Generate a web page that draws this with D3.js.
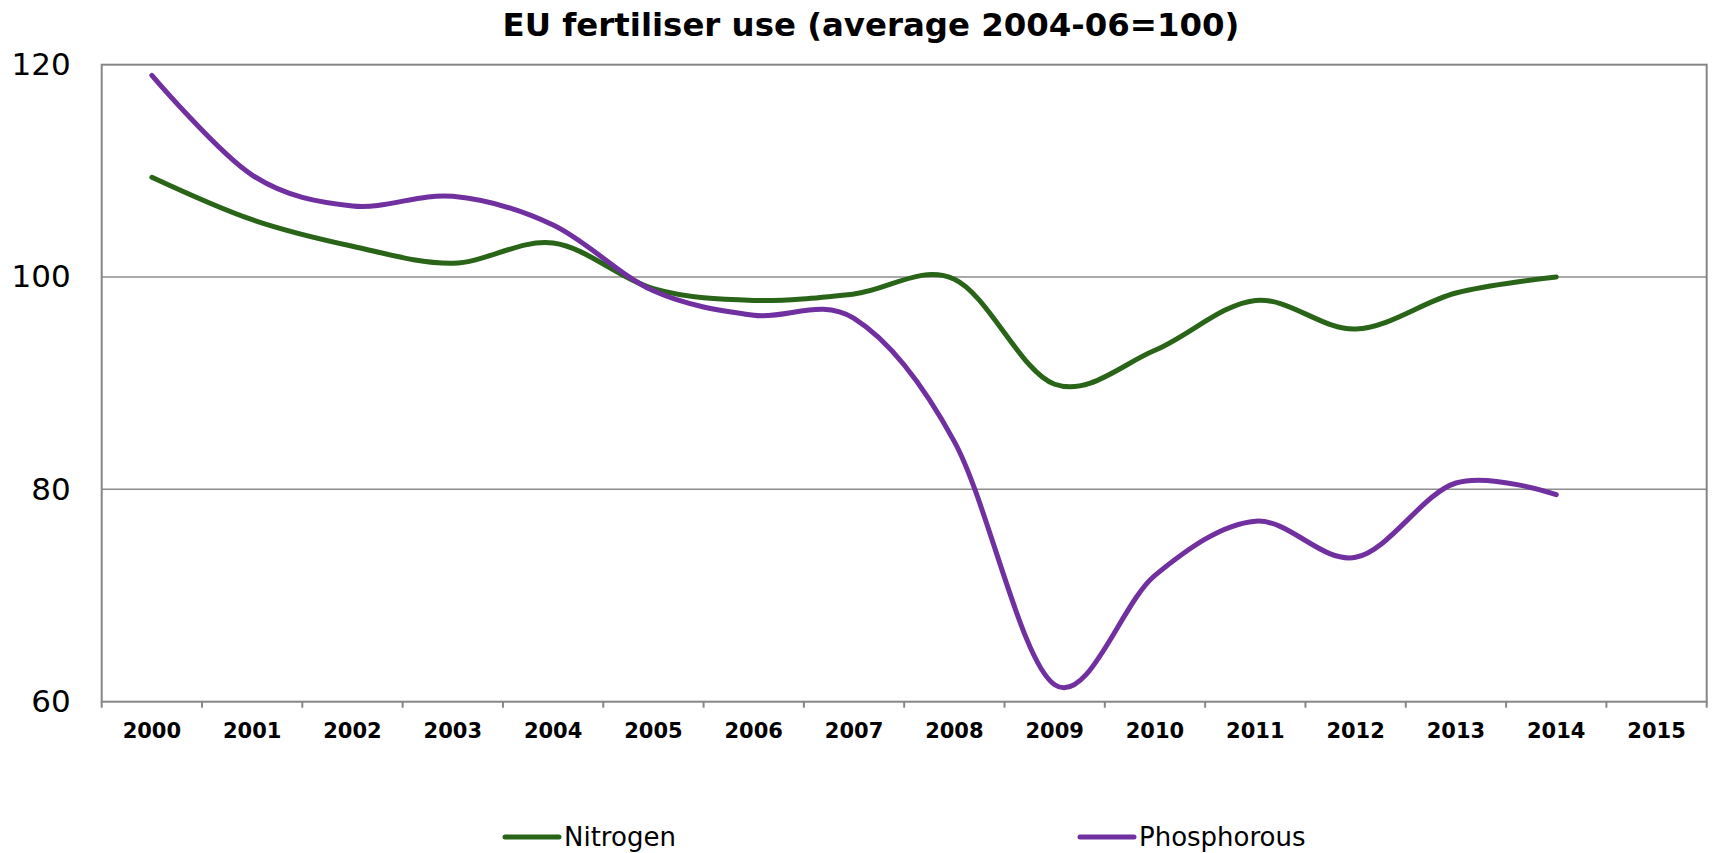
<!DOCTYPE html>
<html lang="en">
  <head>
    <meta charset="UTF-8" />
    <title>EU fertiliser use</title>
    <script src="https://d3js.org/d3.v7.min.js"></script>
    <style>
      body {
        margin: 0;
        padding: 0;
        background-color: #fff;
      }
      svg text {
        font-family: "DejaVu Sans", Verdana, sans-serif;
      }
    </style>
  </head>
  <body>
    <div id="chart"></div>

    <script>
      // data (index, average 2004-06 = 100)
      const years = ["2000", "2001", "2002", "2003", "2004", "2005", "2006", "2007", "2008", "2009", "2010", "2011", "2012", "2013", "2014", "2015"];
      const nitrogen = [109.4, 105.4, 102.9, 101.3, 103.2, 98.9, 97.8, 98.4, 99.8, 89.9, 93.1, 97.8, 95.1, 98.5, 100.0];
      const phosphorous = [119.0, 109.6, 106.7, 107.6, 104.9, 98.7, 96.4, 96.1, 84.5, 61.6, 71.9, 77.0, 73.6, 80.6, 79.5];
      const yTicks = [60, 80, 100, 120];
      const seriesNames = ["Nitrogen", "Phosphorous"];
      const seriesColors = ["#296419", "#7030a0"];

      const width = 1712;
      const height = 853;
      const margin = { top: 64.7, right: 5.3, bottom: 151.3, left: 101.7 };

      const svg = d3.select("#chart").append("svg").attr("width", width).attr("height", height).attr("viewBox", [0, 0, width, height]);

      const x = d3
        .scaleBand()
        .domain(years)
        .range([margin.left, width - margin.right]);

      const y = d3
        .scaleLinear()
        .domain([60, 120])
        .range([height - margin.bottom, margin.top]);

      // title
      svg
        .append("text")
        .attr("x", 871)
        .attr("y", 36)
        .attr("text-anchor", "middle")
        .style("font-size", "32.4px")
        .style("font-weight", "bold")
        .text("EU fertiliser use (average 2004-06=100)");

      // gridlines
      svg
        .append("g")
        .selectAll("line")
        .data(yTicks.slice(1, -1))
        .join("line")
        .attr("x1", margin.left)
        .attr("x2", width - margin.right)
        .attr("y1", (d) => y(d))
        .attr("y2", (d) => y(d))
        .attr("stroke", "#8c8c8c")
        .attr("stroke-width", 1.5);

      // plot frame
      svg
        .append("rect")
        .attr("x", margin.left)
        .attr("y", margin.top)
        .attr("width", width - margin.left - margin.right)
        .attr("height", height - margin.top - margin.bottom)
        .attr("fill", "none")
        .attr("stroke", "#868686")
        .attr("stroke-width", 2);

      // y labels
      const yAxis = d3.axisLeft(y).tickValues(yTicks).tickSize(0).tickPadding(31);
      svg
        .append("g")
        .attr("transform", `translate(${margin.left},0)`)
        .call(yAxis)
        .call((g) => g.select(".domain").remove())
        .call((g) => g.selectAll("text").style("font-size", "31px").attr("fill", "#000"));

      // x labels, ticks sit between categories
      const xAxis = d3.axisBottom(x).tickSize(0).tickPadding(21);
      svg
        .append("g")
        .attr("transform", `translate(0,${height - margin.bottom})`)
        .call(xAxis)
        .call((g) => g.select(".domain").remove())
        .call((g) => g.selectAll("text").style("font-size", "21px").style("font-weight", "bold").attr("fill", "#000"));

      svg
        .append("g")
        .selectAll("line")
        .data(years.concat(["end"]))
        .join("line")
        .attr("x1", (d) => (d === "end" ? width - margin.right : x(d)))
        .attr("x2", (d) => (d === "end" ? width - margin.right : x(d)))
        .attr("y1", height - margin.bottom)
        .attr("y2", height - margin.bottom + 6)
        .attr("stroke", "#868686")
        .attr("stroke-width", 2);

      // series
      const line = d3
        .line()
        .x((d, i) => x(years[i]) + x.bandwidth() / 2)
        .y((d) => y(d))
        .curve(d3.curveCatmullRom.alpha(0));

      [nitrogen, phosphorous].forEach((values, k) => {
        svg
          .append("path")
          .attr("d", line(values))
          .attr("fill", "none")
          .attr("stroke", seriesColors[k])
          .attr("stroke-width", 5)
          .attr("stroke-linecap", "round")
          .attr("stroke-linejoin", "round");
      });

      // legend
      const legendX = [505, 1080];
      const legend = svg
        .append("g")
        .selectAll("g")
        .data(seriesNames)
        .join("g")
        .attr("transform", (d, i) => `translate(${legendX[i]},837)`);

      legend
        .append("line")
        .attr("x1", 0)
        .attr("x2", 54)
        .attr("stroke", (d, i) => seriesColors[i])
        .attr("stroke-width", 5)
        .attr("stroke-linecap", "round");

      legend
        .append("text")
        .attr("x", 59)
        .attr("dy", "0.35em")
        .style("font-size", "26px")
        .text((d) => d);
    </script>
  </body>
</html>
